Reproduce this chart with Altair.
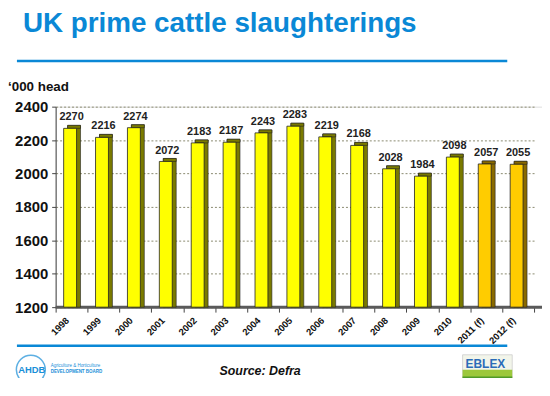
import altair as alt
import pandas as pd

years = ["1998", "1999", "2000", "2001", "2002", "2003", "2004", "2005",
         "2006", "2007", "2008", "2009", "2010", "2011 (f)", "2012 (f)"]
values = [2270, 2216, 2274, 2072, 2183, 2187, 2243, 2283,
          2219, 2168, 2028, 1984, 2098, 2057, 2055]
kinds = ["actual"] * 13 + ["forecast"] * 2
y_ticks = [1200, 1400, 1600, 1800, 2000, 2200, 2400]

df = pd.DataFrame({"year": years, "value": values, "kind": kinds})

FONT = "Liberation Sans"
BLUE = "#0a88d6"

xenc = alt.X("year:N", sort=years, title=None,
             scale=alt.Scale(paddingInner=0, paddingOuter=0, range=[0, 482]),
             axis=alt.Axis(labelAngle=-45, labelAlign="right", labelBaseline="top",
                           labelFont=FONT, labelFontSize=9.5, labelFontWeight="bold",
                           labelColor="#111", labelOffset=-8, labelPadding=3,
                           tickBand="extent", tickSize=5, tickColor="#444",
                           domain=False, grid=False, labelOverlap=False))
yenc = alt.Y("value:Q", title=None,
             scale=alt.Scale(domain=[1200, 2400], zero=False, nice=False),
             axis=alt.Axis(values=y_ticks, format="d", labelOverlap=False,
                           labelFont=FONT, labelFontSize=15, labelFontWeight="bold",
                           labelColor="#111", tickSize=4, tickColor="#444",
                           labelPadding=4, domainColor="#444",
                           grid=True, gridColor="#8a8a70", gridDash=[2, 2]))

base = alt.Chart(df).encode(x=xenc)

floor = alt.Chart(pd.DataFrame({"value": [1200]})).mark_rule(
    color="#5a5a5a", strokeWidth=3).encode(y=yenc)

side = base.mark_bar(width=13, xOffset=2.5, yOffset=-3, stroke="#222", strokeWidth=0.6).encode(
    y=yenc, y2=alt.datum(1200),
    color=alt.Color("kind:N", scale=alt.Scale(domain=["actual", "forecast"],
                                              range=["#7a7a00", "#8a6a00"]), legend=None))
top = base.mark_bar(width=13, xOffset=2.5, yOffset=-3, stroke="#222", strokeWidth=0.6).encode(
    y=yenc, y2=alt.Y2("value"),
    color=alt.Color("kind:N", scale=alt.Scale(domain=["actual", "forecast"],
                                              range=["#c8c800", "#d0a000"]), legend=None))
front = base.mark_bar(width=13, xOffset=-1.5, stroke="#222", strokeWidth=0.8).encode(
    y=yenc, y2=alt.datum(1200),
    fill=alt.Fill("kind:N", scale=alt.Scale(domain=["actual", "forecast"],
                                            range=["#ffff00", "#ffcc00"]), legend=None))
labels = base.mark_text(dy=-6, baseline="bottom", font=FONT, fontSize=11,
                        fontWeight="bold", color="#222").encode(
    y=yenc, text=alt.Text("value:Q", format="d"))

one = pd.DataFrame({"a": [0]})


def txt(text, x, y, size, color="#111", weight="normal", style="normal",
        align="left", baseline="alphabetic"):
    return alt.Chart(one).mark_text(
        text=text, font=FONT, fontSize=size, color=color, fontWeight=weight,
        fontStyle=style, align=align, baseline=baseline
    ).encode(x=alt.value(x), y=alt.value(y))


def hline(x1, x2, y, color=BLUE, width=2.5):
    return alt.Chart(one).mark_rule(color=color, strokeWidth=width).encode(
        x=alt.value(x1), x2=alt.value(x2), y=alt.value(y))


def box(x1, x2, y1, y2, fill, stroke=None):
    kw = {"fill": fill}
    if stroke:
        kw["stroke"] = stroke
        kw["strokeWidth"] = 0.8
    return alt.Chart(one).mark_rect(**kw).encode(
        x=alt.value(x1), x2=alt.value(x2), y=alt.value(y1), y2=alt.value(y2))


title = txt("UK prime cattle slaughterings", -33, -75, 28, color=BLUE, weight="bold")
line1 = hline(-39, 455, -46)
unit = txt("\u2018000 head", -48, -16, 13.5, weight="bold")
line2 = hline(-39, 455, 241)
source = txt("Source: Defra", 206, 266, 12.5, weight="bold", style="italic",
             align="center", baseline="middle")

ahdb_circle = alt.Chart(one).mark_point(shape="circle", size=850, color="#1a8fd8",
                                        strokeWidth=1.5).encode(
    x=alt.value(-25), y=alt.value(265))
ahdb_bg = box(-37, -12, 260, 270, "white")
ahdb_text = txt("AHDB", -24, 265, 9.5, color="#1a8fd8", weight="bold",
                align="center", baseline="middle")
ahdb_sub1 = txt("Agriculture & Horticulture", -5, 262, 4.5, color="#1a8fd8")
ahdb_sub2 = txt("DEVELOPMENT BOARD", -5, 268, 4.5, color="#1a8fd8", weight="bold")

eb_bg = box(410, 460, 250, 284, "#f2f5ea", stroke="#cccccc")
eb_g1 = box(410, 460, 265, 276, "#9cc83c")
eb_g2 = box(410, 460, 272, 284, "#4f9a28")
eb_text = txt("EBLEX", 413, 259, 12, color="#2b6cb8", weight="bold", baseline="middle")

chart = alt.layer(
    floor, side, top, front, labels,
    title, line1, unit, line2, source,
    ahdb_circle, ahdb_bg, ahdb_text, ahdb_sub1, ahdb_sub2,
    eb_bg, eb_g1, eb_g2, eb_text
).properties(
    width=490, height=202,
    autosize=alt.AutoSizeParams(type="none"),
    padding={"left": 48, "top": 98, "right": 0, "bottom": 70},
).configure_view(fill="#ffffcc", stroke=None).configure(background="white")

chart.save("out.html", embed_options={"renderer": "svg", "actions": False})
